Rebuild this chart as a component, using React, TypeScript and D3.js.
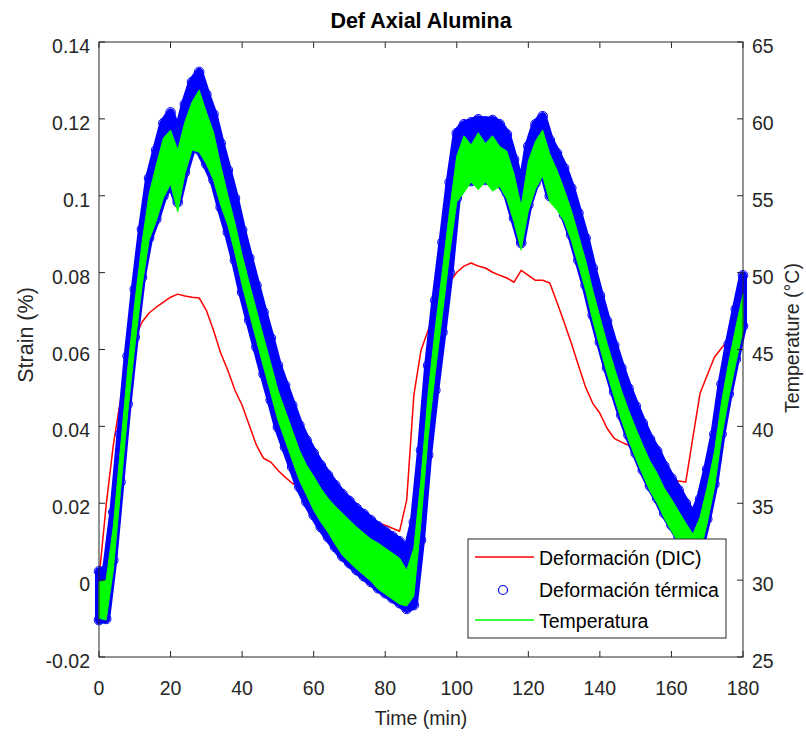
import React from 'react';
import * as d3 from 'd3';

// time (min)
const time = [0, 2, 4, 6, 8, 10, 12, 14, 16, 18, 20, 22, 24, 26, 28, 30, 32, 34, 36, 38, 40, 42, 44, 46, 48, 50, 52, 54, 56, 58, 60, 62, 64, 66, 68, 70, 72, 74, 76, 78, 80, 82, 84, 86, 88, 90, 92, 94, 96, 98, 100, 102, 104, 106, 108, 110, 112, 114, 116, 118, 120, 122, 124, 126, 128, 130, 132, 134, 136, 138, 140, 142, 144, 146, 148, 150, 152, 154, 156, 158, 160, 162, 164, 166, 168, 170, 172, 174, 176, 178, 180];

// Deformación (DIC) strain (%)
const dic = [0.0005, 0.0195, 0.0351, 0.0468, 0.0559, 0.0630, 0.0671, 0.0695, 0.0710, 0.0723, 0.0736, 0.0744, 0.0739, 0.0736, 0.0734, 0.0702, 0.0650, 0.0591, 0.0546, 0.0494, 0.0455, 0.0403, 0.0351, 0.0317, 0.0307, 0.0286, 0.0268, 0.0252, 0.0242, 0.0234, 0.0226, 0.0216, 0.0206, 0.0195, 0.0187, 0.0180, 0.0172, 0.0161, 0.0153, 0.0148, 0.0143, 0.0135, 0.0127, 0.0208, 0.0481, 0.0598, 0.0650, 0.0702, 0.0749, 0.0775, 0.0801, 0.0817, 0.0825, 0.0817, 0.0812, 0.0801, 0.0793, 0.0786, 0.0775, 0.0806, 0.0793, 0.0780, 0.0780, 0.0773, 0.0723, 0.0671, 0.0617, 0.0559, 0.0502, 0.0460, 0.0434, 0.0395, 0.0369, 0.0359, 0.0351, 0.0333, 0.0312, 0.0294, 0.0281, 0.0271, 0.0263, 0.0258, 0.0255, 0.0372, 0.0486, 0.0533, 0.0580, 0.0604, 0.0624, 0.0645, 0.0671];

// Deformación térmica: upper / lower envelope of the scatter (strain %)
const thermHi = [0.0023, 0.0029, 0.0177, 0.0380, 0.0583, 0.0757, 0.0913, 0.1046, 0.1119, 0.1189, 0.1217, 0.1163, 0.1238, 0.1296, 0.1322, 0.1264, 0.1212, 0.1137, 0.1067, 0.0994, 0.0911, 0.0838, 0.0767, 0.0697, 0.0630, 0.0559, 0.0507, 0.0455, 0.0403, 0.0364, 0.0330, 0.0299, 0.0273, 0.0247, 0.0224, 0.0206, 0.0187, 0.0172, 0.0156, 0.0140, 0.0127, 0.0114, 0.0101, 0.0073, 0.0151, 0.0338, 0.0559, 0.0728, 0.0879, 0.1035, 0.1163, 0.1186, 0.1191, 0.1199, 0.1194, 0.1197, 0.1186, 0.1160, 0.1095, 0.1015, 0.1129, 0.1186, 0.1207, 0.1145, 0.1111, 0.1072, 0.1020, 0.0955, 0.0890, 0.0812, 0.0741, 0.0674, 0.0611, 0.0552, 0.0499, 0.0453, 0.0408, 0.0367, 0.0336, 0.0297, 0.0265, 0.0234, 0.0200, 0.0166, 0.0211, 0.0289, 0.0380, 0.0510, 0.0614, 0.0705, 0.0793];
const thermLo = [-0.0104, -0.0101, 0.0052, 0.0255, 0.0458, 0.0632, 0.0788, 0.0890, 0.0939, 0.0999, 0.1035, 0.0983, 0.1061, 0.1124, 0.1119, 0.1082, 0.1041, 0.0970, 0.0905, 0.0832, 0.0749, 0.0676, 0.0606, 0.0536, 0.0468, 0.0398, 0.0346, 0.0294, 0.0242, 0.0203, 0.0169, 0.0138, 0.0112, 0.0086, 0.0062, 0.0044, 0.0026, 0.0010, -0.0005, -0.0021, -0.0034, -0.0047, -0.0060, -0.0075, -0.0065, 0.0104, 0.0325, 0.0494, 0.0645, 0.0801, 0.0994, 0.1033, 0.1038, 0.1046, 0.1041, 0.1041, 0.1033, 0.1007, 0.0942, 0.0877, 0.0976, 0.1033, 0.1067, 0.0999, 0.0989, 0.0950, 0.0898, 0.0832, 0.0767, 0.0689, 0.0619, 0.0552, 0.0489, 0.0429, 0.0377, 0.0330, 0.0286, 0.0245, 0.0213, 0.0174, 0.0143, 0.0112, 0.0078, 0.0036, 0.0081, 0.0159, 0.0250, 0.0380, 0.0484, 0.0575, 0.0661];

// Temperatura: upper / lower envelope of the noisy trace (°C)
const tempHi = [29.87, 30.00, 33.51, 38.59, 43.66, 48.02, 51.92, 55.11, 56.99, 58.75, 59.27, 57.97, 59.79, 61.09, 61.87, 60.44, 59.14, 56.99, 55.04, 53.22, 51.14, 49.32, 47.56, 45.81, 44.11, 42.36, 41.06, 39.76, 38.46, 37.48, 36.76, 35.98, 35.33, 34.81, 34.36, 33.90, 33.45, 33.06, 32.67, 32.41, 32.08, 31.76, 31.43, 30.65, 32.08, 36.63, 42.16, 46.39, 50.16, 54.07, 57.58, 58.90, 58.30, 59.10, 58.40, 58.90, 58.20, 57.90, 56.41, 54.33, 57.25, 58.55, 59.27, 57.71, 56.67, 55.43, 54.07, 52.44, 50.81, 48.86, 47.11, 45.41, 43.85, 42.36, 41.06, 39.89, 38.78, 37.74, 36.96, 35.98, 35.27, 34.49, 33.71, 32.99, 34.10, 36.05, 38.33, 41.58, 44.18, 46.46, 48.60];
const tempLo = [27.53, 27.40, 30.65, 35.72, 40.80, 45.15, 49.06, 52.11, 53.35, 54.85, 55.76, 53.94, 56.41, 57.97, 57.84, 57.06, 56.02, 54.39, 53.09, 51.27, 49.19, 47.37, 45.61, 43.85, 42.16, 40.41, 39.11, 37.80, 36.50, 35.53, 34.55, 33.77, 33.12, 32.34, 31.63, 31.17, 30.72, 30.33, 29.93, 29.41, 29.09, 28.76, 28.44, 28.31, 28.96, 33.77, 39.30, 43.53, 47.30, 51.20, 54.59, 55.20, 55.90, 55.40, 55.90, 55.30, 55.60, 54.78, 53.28, 51.46, 54.00, 55.43, 56.28, 54.59, 54.07, 53.35, 52.11, 50.49, 48.86, 46.91, 45.15, 43.46, 41.90, 40.41, 39.11, 37.93, 36.83, 35.79, 35.01, 34.03, 33.19, 32.41, 31.50, 30.65, 31.76, 33.71, 35.98, 39.24, 41.84, 44.11, 46.26];

const xTicks = [0, 20, 40, 60, 80, 100, 120, 140, 160, 180];
const yLeftTicks = [-0.02, 0, 0.02, 0.04, 0.06, 0.08, 0.1, 0.12, 0.14];
const yLeftLabels = ['-0.02', '0', '0.02', '0.04', '0.06', '0.08', '0.1', '0.12', '0.14'];
const yRightTicks = [25, 30, 35, 40, 45, 50, 55, 60, 65];

const legendItems = ['Deformación (DIC)', 'Deformación térmica', 'Temperatura'];

const FONT = 'Liberation Sans, Arial, Helvetica, sans-serif';
const INK = '#262626';
const RED = '#ff0000';
const BLUE = '#0000ff';
const GREEN = '#00ff00';

export default function App() {
  const W = 806, H = 737;
  const L = 99, R = 743, T = 42, B = 657;
  const x = d3.scaleLinear().domain([0, 180]).range([L, R]);
  const yL = d3.scaleLinear().domain([-0.02, 0.14]).range([B, T]);
  const yR = d3.scaleLinear().domain([25, 65]).range([B, T]);

  const redPath = d3.line<number>().x((_, i) => x(time[i])).y((d) => yL(d))(dic) || '';
  const bluePath = d3.area<number>()
    .x((_, i) => x(time[i]))
    .y0((_, i) => yL(thermLo[i]))
    .y1((d) => yL(d))(thermHi) || '';
  const greenPath = d3.area<number>()
    .x((_, i) => x(time[i]))
    .y0((_, i) => yR(tempLo[i]))
    .y1((d) => yR(d))(tempHi) || '';

  const tick = 6;

  return (
    <svg width={W} height={H} style={{ position: 'absolute', left: 0, top: 0, background: '#fff' }} fontFamily={FONT}>
      <rect x={0} y={0} width={W} height={H} fill="#fff" />

      {/* DIC line */}
      <path d={redPath} fill="none" stroke={RED} strokeWidth={1.5} strokeLinejoin="round" />

      {/* thermal deformation scatter band */}
      <path d={bluePath} fill={BLUE} stroke={BLUE} strokeWidth={8} strokeLinejoin="round" />
      {time.map((t, i) => (
        <g key={'c' + i}>
          <circle cx={x(t)} cy={yL(thermHi[i])} r={4.8} fill="none" stroke={BLUE} strokeWidth={1} />
          <circle cx={x(t)} cy={yL(thermLo[i])} r={4.8} fill="none" stroke={BLUE} strokeWidth={1} />
        </g>
      ))}

      {/* temperature trace */}
      <path d={greenPath} fill={GREEN} stroke={GREEN} strokeWidth={1} strokeLinejoin="miter" />

      {/* axes box */}
      <rect x={L} y={T} width={R - L} height={B - T} fill="none" stroke={INK} strokeWidth={1} />
      {xTicks.map((v) => (
        <g key={'x' + v}>
          <line x1={x(v)} x2={x(v)} y1={B} y2={B - tick} stroke={INK} />
          <line x1={x(v)} x2={x(v)} y1={T} y2={T + tick} stroke={INK} />
          <text x={x(v)} y={695} textAnchor="middle" fontSize={19.5} fill={INK}>{v}</text>
        </g>
      ))}
      {yLeftTicks.map((v, i) => (
        <g key={'yl' + i}>
          <line x1={L} x2={L + tick} y1={yL(v)} y2={yL(v)} stroke={INK} />
          <text x={90} y={yL(v) + 11} textAnchor="end" fontSize={19.5} fill={INK}>{yLeftLabels[i]}</text>
        </g>
      ))}
      {yRightTicks.map((v) => (
        <g key={'yr' + v}>
          <line x1={R} x2={R - tick} y1={yR(v)} y2={yR(v)} stroke={INK} />
          <text x={752} y={yR(v) + 11} textAnchor="start" fontSize={19.5} fill={INK}>{v}</text>
        </g>
      ))}

      {/* titles */}
      <text x={421} y={28} textAnchor="middle" fontSize={21.5} fontWeight="bold" fill="#000">Def Axial Alumina</text>
      <text x={421} y={725} textAnchor="middle" fontSize={19.5} fill={INK}>Time (min)</text>
      <text transform="translate(33,335) rotate(-90)" textAnchor="middle" fontSize={21.5} fill={INK}>Strain (%)</text>
      <text transform="translate(799,338) rotate(-90)" textAnchor="middle" fontSize={19.5} fill={INK}>Temperature (°C)</text>

      {/* legend */}
      <rect x={468} y={539} width={258} height={99} fill="#fff" stroke={INK} strokeWidth={1} />
      <line x1={475} x2={534} y1={557} y2={557} stroke={RED} strokeWidth={1.5} />
      <circle cx={503} cy={590} r={4.5} fill="none" stroke={BLUE} strokeWidth={1.2} />
      <line x1={475} x2={534} y1={620} y2={620} stroke={GREEN} strokeWidth={1.5} />
      {legendItems.map((s, i) => (
        <text key={s} x={539} y={565 + i * 31.5} fontSize={19.5} fill="#000">{s}</text>
      ))}
    </svg>
  );
}
